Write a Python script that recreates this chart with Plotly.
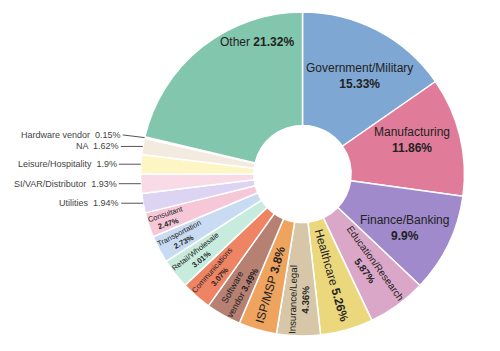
import math
import plotly.graph_objects as go

labels = ["Government/Military", "Manufacturing", "Finance/Banking", "Education/Research",
          "Healthcare", "Insurance/Legal", "ISP/MSP", "Software vendor", "Communications",
          "Retail/Wholesale", "Transportation", "Consultant", "Utilities",
          "SI/VAR/Distributor", "Leisure/Hospitality", "NA", "Hardware vendor", "Other"]
values = [15.33, 11.86, 9.9, 5.87, 5.26, 4.36, 3.8, 3.49, 3.07, 3.01, 2.73, 2.47,
          1.94, 1.93, 1.9, 1.62, 0.15, 21.32]
# how each label is broken before its percentage
display = ["Government/Military<br>", "Manufacturing<br>", "Finance/Banking<br>",
           "Education/Research<br>", "Healthcare ", "Insurance/Legal<br>", "ISP/MSP ",
           "Software<br>vendor ", "Communications<br>", "Retail/Wholesale<br>",
           "Transportation<br>", "Consultant<br>", "Utilities  ", "SI/VAR/Distributor  ",
           "Leisure/Hospitality  ", "NA  ", "Hardware vendor  ", "Other "]
colors = ["#7fa7d3", "#e07c9a", "#a08acb", "#dba7c9", "#ecd87c", "#d7c7a8", "#eea35f",
          "#b68072", "#ef8464", "#c7ecdd", "#c8dbf2", "#f6c7d7", "#ddd3f2", "#f9dbe8",
          "#fdf5c3", "#f3ebe0", "#efe2d4", "#83c6ae"]
outside = ["Utilities", "SI/VAR/Distributor", "Leisure/Hospitality", "NA", "Hardware vendor"]
# big slices labelled horizontally: (fraction through slice, fraction of radius)
big_label_place = {"Government/Military": (0.55, 0.70), "Manufacturing": (0.41, 0.71),
                   "Finance/Banking": (0.56, 0.71), "Other": (0.75, 0.86)}
LEADER_PX = 22
MIN_GAP_PX = 11.5

W, H = 500, 351
ML, MR, MT, MB = 0, 0, 12, 15
DOM_X = [0.21, 1.0]
pw, ph = W - ML - MR, H - MT - MB
R = min(pw * (DOM_X[1] - DOM_X[0]), ph) / 2
cx, cy = (DOM_X[0] + DOM_X[1]) / 2, 0.5

font = "Arial, Liberation Sans, sans-serif"
text_r, positions = [], []
annotations = []
total = sum(values)
cum = 0.0
prev_label_y = None  # pixel y (from top) of previous outside label
for lab, d, v in zip(labels, display, values):
    if lab in outside:
        text_r.append("")
        positions.append("none")
        theta = 2 * math.pi * (cum + 0.5 * v) / total
        ex = cx + R * math.sin(theta) / pw
        ey = cy + R * math.cos(theta) / ph
        edge_px = MT + (1 - ey) * ph
        label_px = edge_px
        if prev_label_y is not None and prev_label_y - label_px < MIN_GAP_PX:
            label_px = prev_label_y - MIN_GAP_PX
        prev_label_y = label_px
        annotations.append(dict(
            x=ex, y=ey, xref="paper", yref="paper", ax=-LEADER_PX, ay=label_px - edge_px,
            xanchor="right", yanchor="middle", showarrow=True, arrowhead=0, arrowwidth=1,
            arrowcolor="#555", borderpad=1, text=f"{d}{v}%",
            font=dict(family=font, size=9, color="#444")))
    elif lab in big_label_place:
        text_r.append("")
        positions.append("none")
        fa, fr = big_label_place[lab]
        theta = 2 * math.pi * (cum + fa * v) / total
        annotations.append(dict(
            x=cx + fr * R * math.sin(theta) / pw, y=cy + fr * R * math.cos(theta) / ph,
            xref="paper", yref="paper", xanchor="center", yanchor="middle",
            showarrow=False, text=f"{d}<b>{v}%</b>",
            font=dict(family=font, size=12, color="#222")))
    else:
        text_r.append(f"{d}<b>{v}%</b>")
        positions.append("inside")
    cum += v

fig = go.Figure(go.Pie(
    labels=labels, values=values, text=text_r, texttemplate="%{text}",
    textposition=positions, sort=False, direction="clockwise", rotation=0, hole=0.30,
    domain=dict(x=DOM_X, y=[0, 1]), showlegend=False,
    marker=dict(colors=colors, line=dict(color="white", width=1.5)),
    insidetextorientation="radial",
    insidetextfont=dict(family=font, size=12, color="#222"),
    hoverinfo="label+percent",
))
fig.update_layout(width=W, height=H, margin=dict(l=ML, r=MR, t=MT, b=MB),
                  paper_bgcolor="white", plot_bgcolor="white", annotations=annotations)
fig.write_html("out.html")
